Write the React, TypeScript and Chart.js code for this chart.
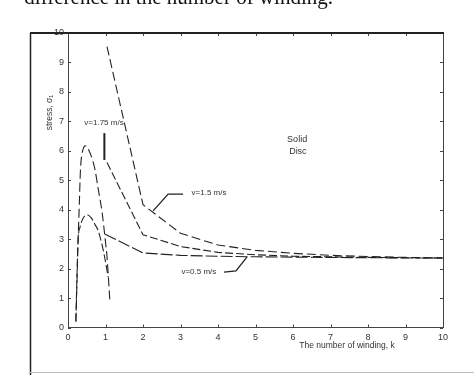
import React, { useEffect, useRef } from 'react';
import { Chart, registerables } from 'chart.js';

Chart.register(...registerables);

// Data: stress sigma_1 vs number of winding k
const kV15 = [1.04, 2, 3, 4, 5, 6, 7, 8, 9, 10];
const stressV15 = [9.54, 4.17, 3.2, 2.8, 2.62, 2.52, 2.45, 2.41, 2.38, 2.36];

const kV175 = [1.04, 2, 3, 4, 5, 6, 7, 8, 9, 10];
const stressV175 = [5.6, 3.15, 2.75, 2.55, 2.47, 2.42, 2.4, 2.38, 2.37, 2.36];

const kV05 = [0.99, 2, 3, 4, 5, 6, 7, 8, 9, 10];
const stressV05 = [3.17, 2.53, 2.45, 2.42, 2.4, 2.39, 2.38, 2.37, 2.36, 2.36];

const kPeakA = [0.21, 0.24, 0.27, 0.3, 0.33, 0.38, 0.48, 0.58, 0.65, 0.72, 0.8, 0.91, 1.0, 1.04, 1.12];
const stressPeakA = [0.2, 1.6, 3.0, 4.1, 5.3, 5.95, 6.17, 5.95, 5.7, 5.36, 4.75, 3.9, 2.9, 2.4, 0.83];

const kPeakB = [0.21, 0.24, 0.27, 0.32, 0.4, 0.51, 0.62, 0.72, 0.8, 0.9, 0.99, 1.07];
const stressPeakB = [0.2, 1.8, 3.0, 3.4, 3.7, 3.83, 3.72, 3.5, 3.3, 2.85, 2.3, 1.72];

const xTicks = [0, 1, 2, 3, 4, 5, 6, 7, 8, 9, 10];
const yTicks = [0, 1, 2, 3, 4, 5, 6, 7, 8, 9, 10];

const caption = 'difference in the number of winding.';
const xTitle = 'The number of winding, k';
const yTitle = 'stress, \u03c3\u2081';

const pts = (xs: number[], ys: number[]) => xs.map((x, i) => ({ x, y: ys[i] }));

const decor = {
  id: 'decor',
  afterDraw(chart: any) {
    const ctx = chart.ctx as CanvasRenderingContext2D;
    const xs = chart.scales.x;
    const ys = chart.scales.y;
    const px = (v: number) => xs.getPixelForValue(v);
    const py = (v: number) => ys.getPixelForValue(v);
    const { left, right, top, bottom } = chart.chartArea;
    ctx.save();
    ctx.strokeStyle = '#444';
    ctx.lineWidth = 1;
    // right axis
    ctx.beginPath();
    ctx.moveTo(right + 0.5, top);
    ctx.lineTo(right + 0.5, bottom);
    ctx.stroke();
    // inward ticks
    ctx.beginPath();
    yTicks.forEach((t) => {
      const y = Math.round(py(t)) + 0.5;
      ctx.moveTo(left, y);
      ctx.lineTo(left + 3, y);
      ctx.moveTo(right - 3, y);
      ctx.lineTo(right, y);
    });
    xTicks.forEach((t) => {
      const x = Math.round(px(t)) + 0.5;
      ctx.moveTo(x, top);
      ctx.lineTo(x, top + 3);
      ctx.moveTo(x, bottom - 3);
      ctx.lineTo(x, bottom);
    });
    ctx.stroke();
    // outer frame
    ctx.strokeStyle = '#222';
    ctx.lineWidth = 2;
    ctx.beginPath();
    ctx.moveTo(30, top);
    ctx.lineTo(right + 1, top);
    ctx.stroke();
    ctx.lineWidth = 1.5;
    ctx.beginPath();
    ctx.moveTo(30.5, top);
    ctx.lineTo(30.5, 375);
    ctx.stroke();
    ctx.strokeStyle = '#bbb';
    ctx.lineWidth = 1;
    ctx.beginPath();
    ctx.moveTo(30, 372.5);
    ctx.lineTo(474, 372.5);
    ctx.stroke();

    // annotations
    ctx.fillStyle = '#333';
    ctx.textAlign = 'center';
    ctx.textBaseline = 'middle';
    ctx.font = '9px "Liberation Sans", Arial, sans-serif';
    ctx.fillText('Solid', px(6.11), py(6.37));
    ctx.fillText('Disc', px(6.13), py(5.96));
    ctx.font = '8px "Liberation Sans", Arial, sans-serif';
    ctx.fillText('v=1.75 m/s', px(0.96), py(6.94));
    ctx.fillText('v=1.5 m/s', px(3.76), py(4.57));
    ctx.fillText('v=0.5 m/s', px(3.49), py(1.88));

    ctx.strokeStyle = '#222';
    ctx.lineWidth = 2;
    ctx.beginPath();
    ctx.moveTo(px(0.97), py(6.6));
    ctx.lineTo(px(0.97), py(5.69));
    ctx.stroke();
    ctx.lineWidth = 1.3;
    ctx.beginPath();
    ctx.moveTo(px(3.07), py(4.53));
    ctx.lineTo(px(2.67), py(4.53));
    ctx.lineTo(px(2.27), py(3.96));
    ctx.stroke();
    ctx.beginPath();
    ctx.moveTo(px(4.16), py(1.88));
    ctx.lineTo(px(4.48), py(1.92));
    ctx.lineTo(px(4.77), py(2.39));
    ctx.stroke();

    // axis titles
    ctx.font = '8.5px "Liberation Sans", Arial, sans-serif';
    ctx.fillStyle = '#333';
    ctx.fillText(xTitle, px(7.44), bottom + 18.5);
    ctx.save();
    ctx.translate(50, py(7.3));
    ctx.rotate(-Math.PI / 2);
    ctx.fillText(yTitle, 0, 0);
    ctx.restore();

    // clipped caption at top
    ctx.fillStyle = '#111';
    ctx.font = '21px "Liberation Serif", "Times New Roman", serif';
    ctx.textAlign = 'right';
    ctx.textBaseline = 'alphabetic';
    ctx.fillText(caption, 333, 4);
    ctx.restore();
  },
};

export default function App() {
  const ref = useRef<HTMLCanvasElement | null>(null);
  useEffect(() => {
    if (!ref.current) return;
    const dash = (d: number[], data: any, mono = false) => ({
      data,
      showLine: true,
      borderColor: '#222',
      borderWidth: 1.1,
      borderDash: d,
      pointRadius: 0,
      fill: false,
      tension: mono ? 0.4 : 0,
      cubicInterpolationMode: mono ? 'monotone' : 'default',
    });
    const tickFont = { size: 9, family: '"Liberation Sans", Arial, sans-serif' };
    const chart = new Chart(ref.current, {
      type: 'scatter',
      data: {
        datasets: [
          { label: 'v=1.5 m/s', ...dash([9, 4], pts(kV15, stressV15)) },
          { label: 'v=1.75 m/s', ...dash([8, 3], pts(kV175, stressV175)) },
          { label: 'v=0.5 m/s', ...dash([12, 3], pts(kV05, stressV05)) },
          { label: 'peak A', ...dash([9, 4], pts(kPeakA, stressPeakA), true) },
          { label: 'peak B', ...dash([8, 3], pts(kPeakB, stressPeakB), true) },
        ] as any,
      },
      options: {
        animation: false,
        responsive: false,
        maintainAspectRatio: false,
        layout: { padding: { top: 33, right: 31, left: 0, bottom: 0 } },
        plugins: { legend: { display: false }, tooltip: { enabled: false } },
        scales: {
          x: {
            type: 'linear',
            min: 0,
            max: 10,
            afterBuildTicks: (s: any) => { s.ticks = xTicks.map((v) => ({ value: v })); },
            afterFit: (s: any) => { s.height = 47.5; },
            grid: { display: false, drawTicks: false },
            border: { display: true, color: '#444', width: 1 },
            ticks: { font: tickFont, color: '#333', padding: 5, autoSkip: false, maxRotation: 0 },
          },
          y: {
            type: 'linear',
            min: 0,
            max: 10,
            afterBuildTicks: (s: any) => { s.ticks = yTicks.map((v) => ({ value: v })); },
            afterFit: (s: any) => { s.width = 68; },
            grid: { display: false, drawTicks: false },
            border: { display: true, color: '#444', width: 1 },
            ticks: { font: tickFont, color: '#333', padding: 4, autoSkip: false },
          },
        },
      } as any,
      plugins: [decor],
    });
    return () => chart.destroy();
  }, []);
  return (
    <div style={{ position: 'fixed', left: 0, top: 0, width: 474, height: 375, background: '#fff' }}>
      <canvas ref={ref} width={474} height={375} style={{ width: 474, height: 375, display: 'block' }} />
    </div>
  );
}
